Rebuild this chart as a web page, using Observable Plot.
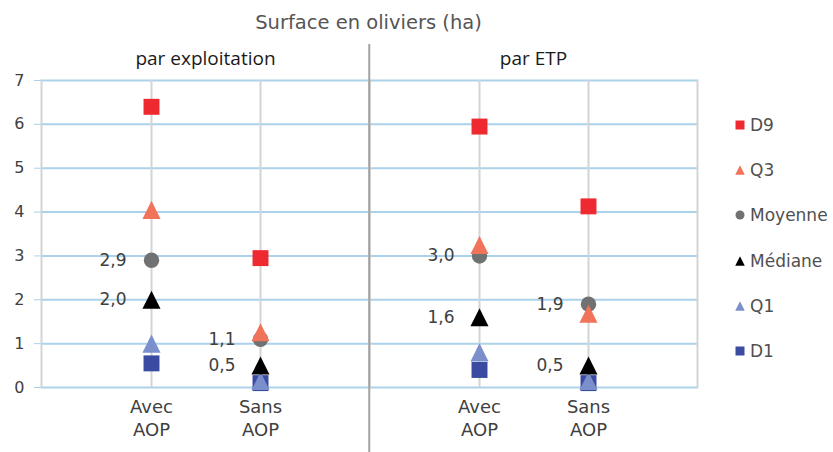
<!DOCTYPE html>
<html lang="fr">
<head>
<meta charset="utf-8">
<script src="https://cdn.jsdelivr.net/npm/d3@7"></script>
<script src="https://cdn.jsdelivr.net/npm/@observablehq/plot@0.6"></script>
<style>
  body { margin: 0; background: #fff; font-family: "DejaVu Sans", sans-serif; }
  #chart { position: relative; width: 833px; height: 452px; overflow: hidden; }
  #title { width: 657px; margin-left: 40px; height: 40px; line-height: 45px; text-align: center; font-size: 19.5px; color: #555; }
  #legend { position: absolute; left: 734px; top: 102px; }
  .item { display: flex; align-items: center; height: 45.3px; font-size: 17px; color: #505050; }
  .item svg { margin-right: 4px; }
</style>
</head>
<body>
<div id="chart">
  <div id="title">Surface en oliviers (ha)</div>
  <div id="plot"></div>
  <div id="legend"></div>
</div>
<script>
const panels = ["par exploitation", "par ETP"];
const categories = ["Avec AOP", "Sans AOP"];
const yTicks = [0, 1, 2, 3, 4, 5, 6, 7];

// Legend order
const series = ["D9", "Q3", "Moyenne", "Médiane", "Q1", "D1"];
const colors = ["#ee2a30", "#f1735a", "#707173", "#000000", "#7b8fcc", "#3a4ba1"];
const shapes = ["square", "triangle", "circle", "triangle", "triangle", "square"];

// Values, in order: exploitation/Avec, exploitation/Sans, ETP/Avec, ETP/Sans
const d9 = [6.4, 2.95, 5.95, 4.13];
const q3 = [4.05, 1.26, 3.25, 1.68];
const moyenne = [2.9, 1.1, 3.0, 1.9];
const mediane = [2.0, 0.5, 1.6, 0.5];
const q1 = [1.0, 0.15, 0.8, 0.15];
const d1 = [0.55, 0.1, 0.4, 0.1];
const valuesBySeries = [d9, q3, moyenne, mediane, q1, d1];

// Series whose values are written next to the marker
const labelled = ["Moyenne", "Médiane"];

// Upward triangle centred on its bounding box, as wide as it is tall
const triangleUp = {
  draw(context, size) {
    const h = Math.sqrt(size) / 2;
    context.moveTo(0, -h);
    context.lineTo(h, h);
    context.lineTo(-h, h);
    context.closePath();
  }
};
const symbolOf = {square: "square", circle: "circle", triangle: triangleUp};
const radiusOf = {square: 9, circle: 7.7, triangle: 10.2};

const rows = [];
series.forEach((s, k) => {
  valuesBySeries[k].forEach((v, i) => {
    rows.push({
      serie: s,
      panel: panels[Math.floor(i / 2)],
      category: categories[i % 2],
      value: v
    });
  });
});

const fmt = v => v.toFixed(1).replace(".", ",");

const W = 833, H = 412, mL = 40, mR = 136, mT = 40, mB = 65;
const facetWidth = (W - mL - mR) / panels.length;

// Markers are drawn from the last legend entry to the first, so D9 sits on top
const dotMarks = series.slice().reverse().map(s => {
  const k = series.indexOf(s);
  return Plot.dot(rows.filter(d => d.serie === s), {
    x: "category",
    y: "value",
    fx: "panel",
    symbol: symbolOf[shapes[k]],
    r: radiusOf[shapes[k]],
    fill: colors[k],
    stroke: "none"
  });
});

const chart = Plot.plot({
  width: W,
  height: H,
  marginTop: mT,
  marginBottom: mB,
  marginLeft: mL,
  marginRight: mR,
  style: {fontFamily: "'DejaVu Sans', sans-serif", fontSize: "17px", color: "#404040", background: "white", overflow: "visible"},
  fx: {domain: panels, padding: 0, label: null},
  x: {type: "point", domain: categories, padding: 1, label: null},
  y: {domain: [0, 7], label: null},
  marks: [
    Plot.ruleY(yTicks, {stroke: "#abd2ea", strokeWidth: 2}),
    Plot.ruleX(categories, {x: d => d, stroke: "#d4d4d4", strokeWidth: 2}),
    Plot.frame({anchor: "left", stroke: "#d4d4d4", strokeWidth: 2}),
    Plot.frame({anchor: "right", stroke: "#d4d4d4", strokeWidth: 2}),
    // separator between the two panels, running past the plotting area
    Plot.ruleX([panels[1]], {
      fx: d => d,
      x: null,
      dx: -facetWidth / 2,
      insetTop: -36,
      insetBottom: -mB,
      stroke: "#a3a3a3",
      strokeWidth: 2
    }),
    Plot.axisY({ticks: yTicks, tickFormat: d => String(d), tickSize: 7, tickPadding: 10, stroke: "#abd2ea", fill: "#404040", fontSize: 16}),
    Plot.axisX({tickSize: 0, tickPadding: 10, tickFormat: d => d.replace(" ", "\n"), lineHeight: 1.25, fill: "#404040", fontSize: 18}),
    Plot.axisFx({anchor: "top", tickSize: 0, tickPadding: 16, fill: "#1a1a1a", fontSize: 19, fontFamily: "'Open Sans', sans-serif"}),
    ...dotMarks,
    Plot.text(rows.filter(d => labelled.includes(d.serie)), {
      x: "category",
      y: "value",
      fx: "panel",
      text: d => fmt(d.value),
      textAnchor: "end",
      dx: -25,
      fill: "#404040",
      fontSize: 17
    })
  ]
});
document.getElementById("plot").appendChild(chart);

// Legend
const legend = d3.select("#legend");
series.forEach((s, k) => {
  const item = legend.append("div").attr("class", "item");
  const svg = item.append("svg").attr("width", 12).attr("height", 12);
  const shape = shapes[k];
  const size = shape === "square" ? 81 : shape === "circle" ? 64 : 90;
  const sym = shape === "square" ? d3.symbolSquare : shape === "circle" ? d3.symbolCircle : triangleUp;
  svg.append("path")
    .attr("transform", "translate(6,6)")
    .attr("d", d3.symbol(sym, size)())
    .attr("fill", colors[k]);
  item.append("span").text(s);
});
</script>
</body>
</html>
